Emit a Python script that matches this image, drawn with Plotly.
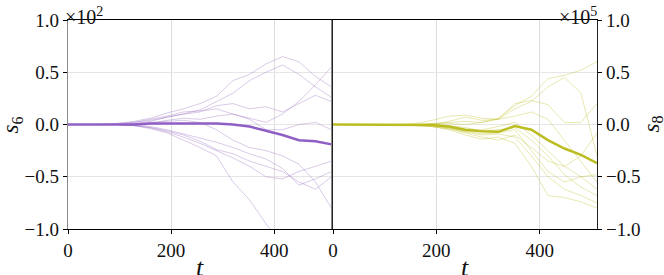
import plotly.graph_objects as go

t = [0, 32, 64, 96, 128, 160, 192, 224, 256, 288, 320, 352, 384, 416, 448, 480, 511]

# s6 (x10^2) thin runs
s6_runs = [
    [0, 0, 0, 0.01, 0.03, 0.06, 0.11, 0.15, 0.20, 0.27, 0.42, 0.48, 0.58, 0.65, 0.60, 0.46, 0.36],
    [0, 0, 0, 0.01, 0.02, 0.04, 0.07, 0.10, 0.14, 0.22, 0.30, 0.42, 0.50, 0.57, 0.48, 0.36, 0.26],
    [0, 0, 0, 0, 0.02, 0.05, 0.08, 0.12, 0.13, 0.15, 0.10, 0.06, 0.02, 0.10, 0.22, 0.38, 0.55],
    [0, 0, 0, 0, 0.01, 0.03, 0.07, 0.10, 0.12, 0.18, 0.20, 0.15, 0.17, 0.12, 0.20, 0.28, 0.22],
    [0, 0, 0, 0, -0.01, 0.01, 0.04, 0.06, 0.05, 0.08, 0.10, 0.05, -0.05, -0.05, 0.00, 0.02, -0.05],
    [0, 0, 0, 0, -0.01, -0.03, -0.07, -0.12, -0.18, -0.25, -0.32, -0.40, -0.50, -0.52, -0.45, -0.40, -0.35],
    [0, 0, 0, 0, -0.01, -0.04, -0.08, -0.15, -0.22, -0.30, -0.55, -0.72, -0.95, -1.15, -1.05, -1.02, -1.20],
    [0, 0, 0, 0, -0.01, -0.03, -0.06, -0.10, -0.16, -0.24, -0.28, -0.35, -0.40, -0.45, -0.55, -0.62, -0.50],
    [0, 0, 0, 0, 0, -0.02, -0.05, -0.09, -0.13, -0.17, -0.22, -0.28, -0.33, -0.42, -0.58, -0.52, -0.45],
    [0, 0, 0, 0, 0.0, 0.02, 0.03, 0.04, 0.02, -0.05, -0.15, -0.22, -0.25, -0.30, -0.38, -0.55, -0.80],
]
s6_mean = [0, 0, 0, 0, 0.0, 0.01, 0.01, 0.01, 0.01, 0.01, 0.0, -0.02, -0.06, -0.10, -0.15, -0.16, -0.19]

# s8 (x10^5) thin runs
s8_runs = [
    [0, 0, 0, 0, 0, 0.0, 0.01, 0.02, 0.03, 0.02, 0.06, 0.18, 0.27, 0.44, 0.47, 0.52, 0.60],
    [0, 0, 0, 0, 0, 0.0, 0.01, 0.01, 0.0, 0.02, 0.05, 0.15, 0.22, 0.36, 0.45, 0.30, -0.30],
    [0, 0, 0, 0, 0, 0.0, 0.0, 0.03, 0.07, 0.04, 0.05, 0.20, 0.23, 0.19, 0.02, 0.02, 0.20],
    [0, 0, 0, 0, 0.0, 0.01, 0.04, 0.08, 0.09, 0.06, 0.05, 0.08, 0.12, 0.05, -0.15, -0.35, -0.55],
    [0, 0, 0, 0, 0, -0.01, -0.02, -0.04, -0.07, -0.05, -0.02, 0.02, -0.10, -0.25, -0.40, -0.50, -0.62],
    [0, 0, 0, 0, 0, -0.01, -0.02, -0.05, -0.10, -0.14, -0.12, -0.18, -0.40, -0.68, -0.70, -0.74, -0.80],
    [0, 0, 0, 0, 0, 0, -0.01, -0.03, -0.07, -0.10, -0.09, -0.12, -0.30, -0.50, -0.62, -0.68, -0.75],
    [0, 0, 0, 0, 0, 0, -0.02, -0.04, -0.08, -0.12, -0.15, -0.10, -0.22, -0.35, -0.40, -0.30, -0.08],
    [0, 0, 0, 0, 0, 0, -0.01, -0.03, -0.06, -0.09, -0.08, -0.05, -0.25, -0.45, -0.55, -0.50, -0.48],
    [0, 0, 0, 0, 0, 0, 0.0, -0.01, -0.03, -0.06, -0.05, -0.03, -0.15, -0.30, -0.48, -0.60, -0.68],
]
s8_mean = [0, 0, 0, 0, 0, 0, -0.005, -0.02, -0.05, -0.065, -0.07, -0.015, -0.05, -0.15, -0.23, -0.29, -0.37]

x_ticks = [0, 200, 400]
y_ticks = [-1.0, -0.5, 0.0, 0.5, 1.0]

PURPLE = "#8f5fc5"
PURPLE_THIN = "rgba(148,103,189,0.35)"
OLIVE = "#bcbd22"
OLIVE_THIN = "rgba(188,189,34,0.35)"
FONT = "Liberation Serif"

fig = go.Figure()
for run in s6_runs:
    fig.add_trace(go.Scatter(x=t, y=run, mode="lines", line=dict(color=PURPLE_THIN, width=1),
                             xaxis="x", yaxis="y", showlegend=False, hoverinfo="skip"))
fig.add_trace(go.Scatter(x=t, y=s6_mean, mode="lines", line=dict(color=PURPLE, width=2.5),
                         xaxis="x", yaxis="y", showlegend=False))
for run in s8_runs:
    fig.add_trace(go.Scatter(x=t, y=run, mode="lines", line=dict(color=OLIVE_THIN, width=1),
                             xaxis="x2", yaxis="y2", showlegend=False, hoverinfo="skip"))
fig.add_trace(go.Scatter(x=t, y=s8_mean, mode="lines", line=dict(color=OLIVE, width=2.5),
                         xaxis="x2", yaxis="y2", showlegend=False))

tickfont = dict(family=FONT, size=19, color="#111")
common_x = dict(range=[0, 511], tickvals=x_ticks, showgrid=True, gridcolor="#dedede", gridwidth=1,
                showline=True, linecolor="black", linewidth=1, mirror=True, ticks="outside",
                ticklen=4, tickcolor="black", tickfont=tickfont, zeroline=False, automargin=False)
common_y = dict(range=[-1, 1], tickvals=y_ticks, tickformat=".1f", showgrid=True, gridcolor="#e6e6e6",
                gridwidth=1.3, showline=True, linewidth=1.3, mirror=True, ticks="outside", ticklen=4,
                tickcolor="black", tickfont=tickfont, zeroline=False, automargin=False)

fig.update_layout(
    width=664, height=275,
    margin=dict(l=68, r=67, t=20, b=46),
    paper_bgcolor="white", plot_bgcolor="white",
    xaxis=dict(domain=[0, 0.498], anchor="y", **common_x),
    xaxis2=dict(domain=[0.501, 1], anchor="y2", **common_x),
    yaxis=dict(anchor="x", side="left", linecolor="#888888", **common_y),
    yaxis2=dict(anchor="x2", side="right", linecolor="#222222", **common_y),
    annotations=[
        dict(text="×10<sup>2</sup>", x=0, xref="x domain", y=1, yref="y domain", xanchor="left",
             yanchor="bottom", showarrow=False, font=dict(family=FONT, size=20, color="#111"),
             xshift=-5, yshift=-10),
        dict(text="×10<sup>5</sup>", x=1, xref="x2 domain", y=1, yref="y2 domain", xanchor="right",
             yanchor="bottom", showarrow=False, font=dict(family=FONT, size=20, color="#111"),
             xshift=2, yshift=-10),
        dict(text="<i>s</i><sub>6</sub>", x=-0.1059, xref="paper", y=0.5, yref="y domain", textangle=-90,
             showarrow=False, font=dict(family=FONT, size=23, color="#111"), xanchor="center"),
        dict(text="<i>s</i><sub>8</sub>", x=1.104, xref="paper", y=0.5, yref="y2 domain", textangle=-90,
             showarrow=False, font=dict(family=FONT, size=23, color="#111"), xanchor="center"),
        dict(text="<i>t</i>", x=0.5, xref="x domain", y=0, yref="paper", yanchor="middle",
             showarrow=False, font=dict(family=FONT, size=26, color="#111"), yshift=-38),
        dict(text="<i>t</i>", x=0.5, xref="x2 domain", y=0, yref="paper", yanchor="middle",
             showarrow=False, font=dict(family=FONT, size=26, color="#111"), yshift=-38),
    ],
)

fig.write_html("out.html", config={"displayModeBar": False},
               post_script="document.body.style.margin='0';document.body.style.overflow='hidden';")
